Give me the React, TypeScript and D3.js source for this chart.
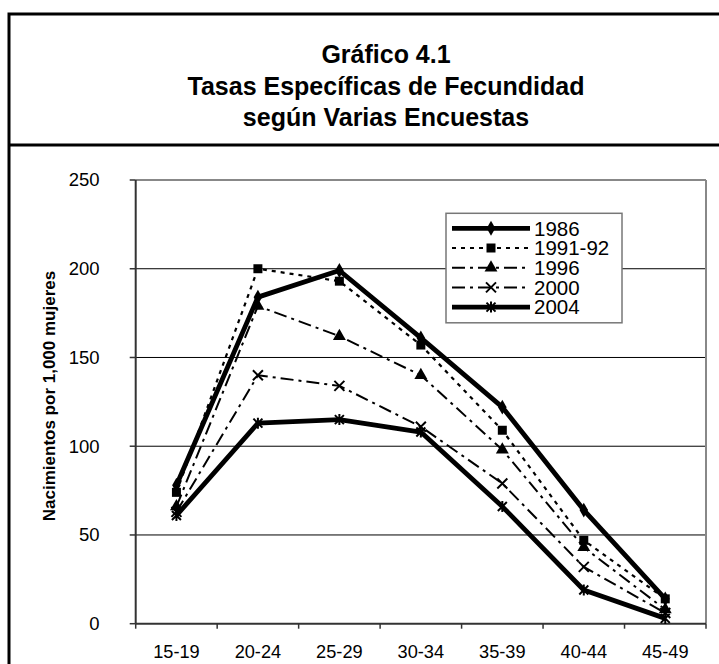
import React from "react";
import * as d3 from "d3";

const categories = ["15-19", "20-24", "25-29", "30-34", "35-39", "40-44", "45-49"];
const seriesNames = ["1986", "1991-92", "1996", "2000", "2004"];
const values1986 = [78, 184, 199, 161, 122, 64, 14];
const values1991 = [74, 200, 193, 157, 109, 47, 14];
const values1996 = [66, 179, 162, 140, 98, 43, 8];
const values2000 = [63, 140, 134, 111, 79, 32, 6];
const values2004 = [61, 113, 115, 108, 66, 19, 3];
const yTicks = [0, 50, 100, 150, 200, 250];
const titleLines = ["Gráfico 4.1", "Tasas Específicas de Fecundidad", "según Varias Encuestas"];
const yLabel = "Nacimientos por 1,000 mujeres";

const allValues = [values1986, values1991, values1996, values2000, values2004];

type MarkerType = "diamond" | "square" | "triangle" | "x" | "star";
const styles: { width: number; dash: string | undefined; marker: MarkerType }[] = [
  { width: 4.8, dash: undefined, marker: "diamond" },
  { width: 2.2, dash: "4,5", marker: "square" },
  { width: 2, dash: "13,5,3,5", marker: "triangle" },
  { width: 2, dash: "13,5,3,5", marker: "x" },
  { width: 4.8, dash: undefined, marker: "star" },
];

function Marker({ type, cx, cy }: { type: MarkerType; cx: number; cy: number }) {
  const t = `translate(${cx},${cy})`;
  if (type === "diamond") {
    const p = d3.symbol().type(d3.symbolDiamond).size(64)() as string;
    return <path d={p} transform={t} fill="#000" />;
  }
  if (type === "square") {
    const p = d3.symbol().type(d3.symbolSquare).size(81)() as string;
    return <path d={p} transform={t} fill="#000" />;
  }
  if (type === "triangle") {
    const p = d3.symbol().type(d3.symbolTriangle).size(72)() as string;
    return <path d={p} transform={t} fill="#000" />;
  }
  if (type === "x") {
    const s = 5;
    return (
      <path d={`M${-s},${-s}L${s},${s}M${-s},${s}L${s},${-s}`} transform={t} stroke="#000" strokeWidth={2} fill="none" />
    );
  }
  const s = 4.5;
  return (
    <path
      d={`M${-s},${-s}L${s},${s}M${-s},${s}L${s},${-s}M0,${-s - 1}L0,${s + 1}`}
      transform={t}
      stroke="#000"
      strokeWidth={2}
      fill="none"
    />
  );
}

export default function App() {
  const W = 719;
  const H = 664;
  const left = 135.7;
  const right = 706;
  const top = 180;
  const bottom = 623.7;
  const x = d3.scaleBand<string>().domain(categories).range([left, right]);
  const y = d3.scaleLinear().domain([0, 250]).range([bottom, top]);
  const cx = (c: string) => (x(c) as number) + x.bandwidth() / 2;
  const line = d3
    .line<number>()
    .x((_, i) => cx(categories[i]))
    .y((d) => y(d));

  const font = "'Liberation Sans', Arial, Helvetica, sans-serif";
  const legendX = 446;
  const legendY = 213.3;
  const legendW = 176;
  const legendH = 109.5;
  const rowStart = 228.3;
  const rowStep = 19.7;

  return (
    <svg
      width={W}
      height={H}
      style={{ position: "absolute", left: 0, top: 0, background: "#fff" }}
      fontFamily={font}
    >
      <rect x={0} y={0} width={W} height={H} fill="#fff" />
      {/* outer frame */}
      <rect x={9} y={14} width={760} height={700} fill="none" stroke="#000" strokeWidth={3} />
      <line x1={9} x2={W + 5} y1={145} y2={145} stroke="#000" strokeWidth={3} />
      {titleLines.map((t, i) => (
        <text key={i} x={386} y={63 + i * 31.5} textAnchor="middle" fontSize={25} fontWeight="bold" fill="#000">
          {t}
        </text>
      ))}

      {/* gridlines */}
      {yTicks
        .filter((v) => v > 0 && v < 250)
        .map((v) => (
          <line key={v} x1={left} x2={right} y1={y(v)} y2={y(v)} stroke="#000" strokeWidth={1} />
        ))}
      {/* plot border */}
      <line x1={left} x2={right} y1={top} y2={top} stroke="#888" strokeWidth={2} />
      <line x1={right} x2={right} y1={top} y2={bottom} stroke="#888" strokeWidth={2} />
      {/* axes */}
      <line x1={left} x2={left} y1={top} y2={bottom} stroke="#333" strokeWidth={2} />
      <line x1={left} x2={right} y1={bottom} y2={bottom} stroke="#333" strokeWidth={2} />
      {yTicks.map((v) => (
        <g key={v}>
          <line x1={left - 6} x2={left} y1={y(v)} y2={y(v)} stroke="#333" strokeWidth={1.5} />
          <text x={99.5} y={y(v)} dy="0.35em" textAnchor="end" fontSize={18.5} fill="#000">
            {v}
          </text>
        </g>
      ))}
      {d3.range(categories.length + 1).map((i) => {
        const xx = left + i * x.bandwidth();
        return <line key={i} x1={xx} x2={xx} y1={bottom} y2={bottom + 5} stroke="#333" strokeWidth={1.5} />;
      })}
      {categories.map((c) => (
        <text key={c} x={cx(c)} y={658} textAnchor="middle" fontSize={18.2} fill="#000">
          {c}
        </text>
      ))}
      <text
        transform={`translate(55,396) rotate(-90)`}
        textAnchor="middle"
        fontSize={17}
        fontWeight="bold"
        fill="#000"
      >
        {yLabel}
      </text>

      {/* series */}
      {allValues.map((vals, si) => (
        <g key={si}>
          <path
            d={line(vals) as string}
            fill="none"
            stroke="#000"
            strokeWidth={styles[si].width}
            strokeDasharray={styles[si].dash}
            strokeLinejoin="round"
          />
          {vals.map((v, i) => (
            <Marker key={i} type={styles[si].marker} cx={cx(categories[i])} cy={y(v)} />
          ))}
        </g>
      ))}

      {/* legend */}
      <rect x={legendX} y={legendY} width={legendW} height={legendH} fill="#fff" stroke="#777" strokeWidth={1.5} />
      {seriesNames.map((n, i) => {
        const ry = rowStart + i * rowStep;
        return (
          <g key={n}>
            <line
              x1={452}
              x2={530}
              y1={ry}
              y2={ry}
              stroke="#000"
              strokeWidth={styles[i].width}
              strokeDasharray={styles[i].dash}
            />
            <Marker type={styles[i].marker} cx={491} cy={ry} />
            <text x={534} y={ry} dy="0.36em" fontSize={20.5} fill="#000">
              {n}
            </text>
          </g>
        );
      })}
    </svg>
  );
}
